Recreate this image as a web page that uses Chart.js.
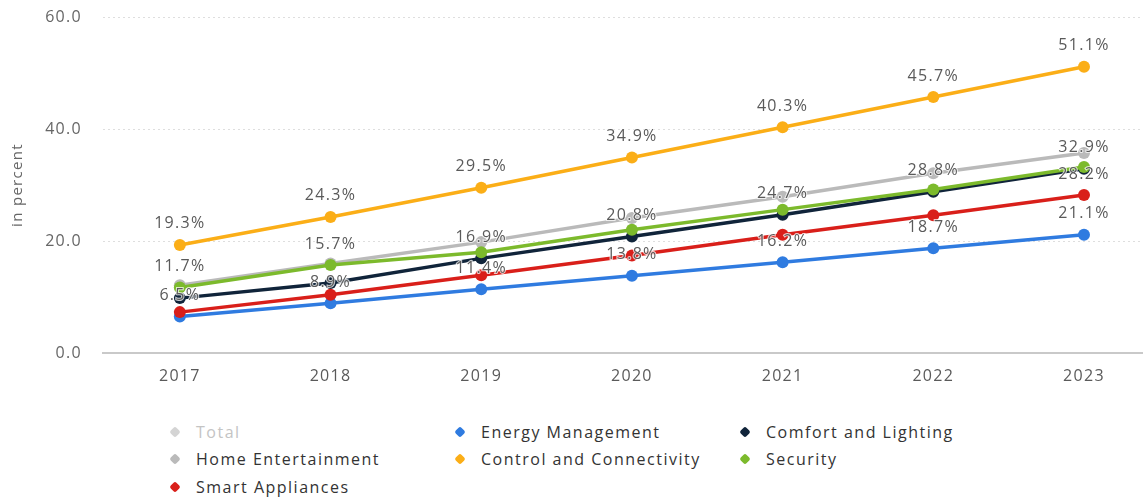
<!DOCTYPE html>
<html>
<head>
<meta charset="utf-8">
<script src="https://cdn.jsdelivr.net/npm/chart.js@4/dist/chart.umd.min.js"></script>
<style>
  html, body { margin: 0; padding: 0; background: #ffffff; }
  #wrap { position: relative; width: 1146px; height: 499px; overflow: hidden; }
  #plot { position: absolute; left: 0; top: 0; width: 1146px; height: 400px; }
  #legend {
    position: absolute; left: 170px; top: 418px;
    display: grid; grid-template-columns: 285px 285px 285px; grid-auto-rows: 27.5px;
    font-family: "Open Sans", sans-serif; font-size: 16px; letter-spacing: 1.5px; color: #333333;
  }
  .item { display: flex; align-items: center; white-space: nowrap; }
  .mark { width: 8px; height: 8px; border-radius: 2px; transform: rotate(45deg); margin: 0 17px 0 1px; flex: none; }
  .item.off { color: #c4c4c4; }
</style>
</head>
<body>
<div id="wrap">
  <div id="plot"><canvas id="chart"></canvas></div>
  <div id="legend"></div>
</div>
<script>
// Years on the horizontal axis
const years = [2017, 2018, 2019, 2020, 2021, 2022, 2023];

// Share per segment, in percent
const total = [];
const energyManagement = [6.5, 8.9, 11.4, 13.8, 16.2, 18.7, 21.1];
const comfortLighting = [9.8, 12.5, 16.9, 20.8, 24.7, 28.8, 32.9];
const homeEntertainment = [12.1, 16.0, 19.8, 24.1, 27.9, 32.1, 35.7];
const controlConnectivity = [19.3, 24.3, 29.5, 34.9, 40.3, 45.7, 51.1];
const security = [11.7, 15.7, 18.0, 22.0, 25.6, 29.2, 33.2];
const smartAppliances = [7.3, 10.4, 13.9, 17.4, 21.1, 24.6, 28.2];

// Vertical axis ticks
const yTicks = [0, 20, 40, 60];

// Which points carry a value label
const energyLabelAt = [0, 1, 2, 3, 4, 5, 6];
const comfortLabelAt = [2, 3, 4, 5, 6];
const controlLabelAt = [0, 1, 2, 3, 4, 5, 6];
const securityLabelAt = [0, 1];
const appliancesLabelAt = [6];

const toPoints = vals => vals.map((v, i) => ({ x: years[i], y: v }));

const series = [
  { label: 'Total', values: total, color: '#d2d2d2', hidden: true, labelAt: [] },
  { label: 'Energy Management', values: energyManagement, color: '#2f7be0', labelAt: energyLabelAt },
  { label: 'Comfort and Lighting', values: comfortLighting, color: '#10243a', labelAt: comfortLabelAt },
  { label: 'Home Entertainment', values: homeEntertainment, color: '#bababa', labelAt: [] },
  { label: 'Control and Connectivity', values: controlConnectivity, color: '#fbae17', labelAt: controlLabelAt },
  { label: 'Security', values: security, color: '#7cba2c', labelAt: securityLabelAt },
  { label: 'Smart Appliances', values: smartAppliances, color: '#d91f1a', labelAt: appliancesLabelAt }
];

const FONT = '"Open Sans", sans-serif';
const SPACING = '1.3px';

// Wider letter spacing for all canvas text
const spacing = {
  id: 'spacing',
  beforeUpdate(chart) { chart.ctx.letterSpacing = SPACING; },
  beforeDraw(chart) { chart.ctx.letterSpacing = SPACING; }
};

// Percentage labels above selected points
const valueLabels = {
  id: 'valueLabels',
  afterDatasetsDraw(chart) {
    const ctx = chart.ctx;
    ctx.save();
    ctx.letterSpacing = SPACING;
    ctx.font = '16px ' + FONT;
    ctx.textAlign = 'center';
    ctx.textBaseline = 'middle';
    ctx.fillStyle = '#5a5a5a';
    ctx.strokeStyle = 'rgba(255,255,255,0.75)';
    ctx.lineWidth = 2;
    chart.data.datasets.forEach((ds, i) => {
      if (!chart.isDatasetVisible(i)) return;
      const meta = chart.getDatasetMeta(i);
      ds.labelAt.forEach(j => {
        const el = meta.data[j];
        if (!el) return;
        const text = ds.data[j].y.toFixed(1) + '%';
        ctx.strokeText(text, el.x, el.y - 21);
        ctx.fillText(text, el.x, el.y - 21);
      });
    });
    ctx.restore();
  }
};

const n = series.length;
const chart = new Chart(document.getElementById('chart'), {
  type: 'line',
  data: {
    datasets: series.map((s, i) => ({
      label: s.label,
      data: toPoints(s.values),
      labelAt: s.labelAt,
      hidden: !!s.hidden,
      borderColor: s.color,
      backgroundColor: s.color,
      pointBackgroundColor: s.color,
      pointBorderWidth: 0,
      pointRadius: 6,
      pointHoverRadius: 6,
      borderWidth: 3.5,
      tension: 0,
      order: n - i
    }))
  },
  options: {
    responsive: true,
    maintainAspectRatio: false,
    animation: false,
    events: [],
    layout: { autoPadding: false, padding: { top: 17, right: 4, left: 0, bottom: 0 } },
    plugins: { legend: { display: false }, tooltip: { enabled: false } },
    scales: {
      x: {
        type: 'linear',
        min: 2016.49,
        max: 2023.385,
        afterBuildTicks(scale) { scale.ticks = years.map(v => ({ value: v })); },
        afterFit(scale) {
          scale.height = 47;
          scale.paddingLeft = 0; scale.paddingRight = 0;
        },
        grid: { display: false, drawTicks: false },
        border: { display: true, color: '#c9c9c9', width: 2 },
        ticks: {
          padding: 14,
          color: '#5a5a5a',
          font: { family: FONT, size: 16 },
          callback: v => String(v),
          maxRotation: 0
        }
      },
      y: {
        min: 0,
        max: 60,
        afterBuildTicks(scale) { scale.ticks = yTicks.map(v => ({ value: v })); },
        afterFit(scale) {
          scale.width = 103;
          scale.paddingTop = 0; scale.paddingBottom = 0;
        },
        grid: {
          drawTicks: false,
          color: ctx => ctx.tick && ctx.tick.value === 0 ? 'rgba(0,0,0,0)' : '#dedede',
          lineWidth: 1
        },
        border: { display: false, dash: [2, 3] },
        ticks: {
          padding: 21,
          color: '#666666',
          font: { family: FONT, size: 16 },
          callback: v => Number(v).toFixed(1)
        },
        title: {
          display: true,
          text: 'in percent',
          color: '#666666',
          font: { family: FONT, size: 15 },
          padding: { top: 9, bottom: 0 }
        }
      }
    }
  },
  plugins: [spacing, valueLabels]
});

// Legend laid out in three columns
const legend = document.getElementById('legend');
chart.data.datasets.forEach((ds, i) => {
  const item = document.createElement('div');
  item.className = 'item' + (ds.hidden ? ' off' : '');
  const mark = document.createElement('span');
  mark.className = 'mark';
  mark.style.background = ds.hidden ? '#d4d4d4' : ds.borderColor;
  const text = document.createElement('span');
  text.textContent = ds.label;
  item.appendChild(mark);
  item.appendChild(text);
  legend.appendChild(item);
});
</script>
</body>
</html>
